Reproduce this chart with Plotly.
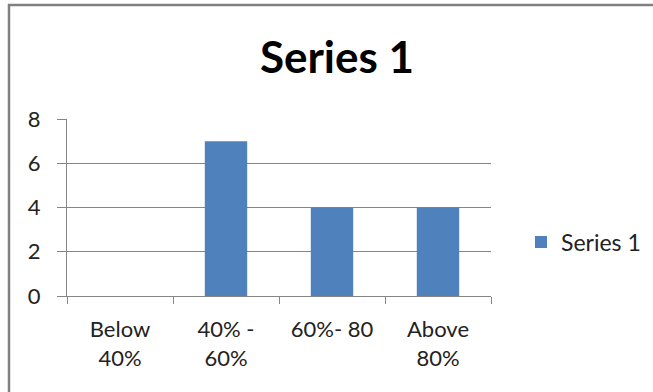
import plotly.graph_objects as go

categories = ["Below<br>40%", "40% -<br>60%", "60%- 80", "Above<br>80%"]
values = [0, 7, 4, 4]
series_name = "Series 1"
title_text = "Series 1"

FONT = "Lato, Open Sans, sans-serif"

fig = go.Figure()
fig.add_trace(go.Bar(
    x=categories, y=values, name=series_name,
    marker=dict(color="#4F81BD", line=dict(width=0)),
    showlegend=True,
))

L, R, T, B = 67, 162, 119, 96
W, H = 653, 392
pw, ph = W - L - R, H - T - B

def px(x):
    return (x - L) / pw

def py(y):
    return (H - B - y) / ph

fig.update_layout(
    width=W, height=H,
    margin=dict(l=L, r=R, t=T, b=B, autoexpand=False),
    paper_bgcolor="white", plot_bgcolor="white",
    bargap=0.6,
    font=dict(family=FONT, size=21, color="#222222"),
    title=dict(text="<b>" + title_text + "</b>", x=px(337), xref="paper", xanchor="center",
               y=1 - 58 / H, yanchor="middle",
               font=dict(family=FONT, size=44, color="black")),
    legend=dict(x=px(521), y=py(242), xanchor="left", yanchor="middle",
                font=dict(family=FONT, size=23, color="#222222"),
                itemwidth=30, bgcolor="rgba(0,0,0,0)"),
    shapes=[dict(type="rect", xref="paper", yref="paper",
                 x0=px(9), x1=px(700), y0=py(440), y1=py(5),
                 line=dict(color="#808080", width=2.5), layer="above")],
)
fig.update_xaxes(
    showline=True, linecolor="#868686", linewidth=1,
    ticks="outside", ticklen=7, tickcolor="#868686",
    tickson="boundaries", showgrid=False,
    tickfont=dict(family=FONT, size=22, color="#222222"),
    ticklabelstandoff=14,
)
fig.update_yaxes(
    range=[0, 8], dtick=2, showline=True, linecolor="#868686", linewidth=1,
    ticks="outside", ticklen=9, tickcolor="#868686",
    showgrid=True, gridcolor="#868686", gridwidth=1, zeroline=False,
    tickfont=dict(family=FONT, size=22, color="#222222"),
    ticklabelstandoff=12,
)

fig.write_html("out.html")
